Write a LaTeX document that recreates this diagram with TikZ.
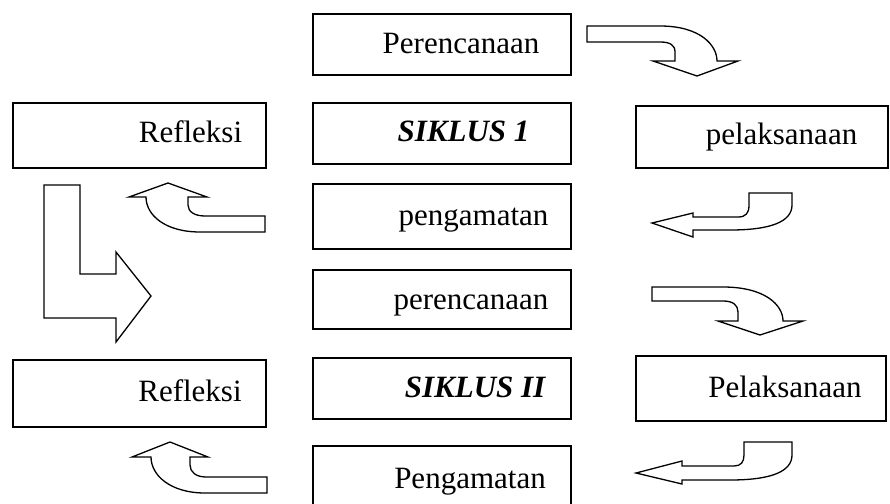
\documentclass[tikz,border=0pt]{standalone}
\usepackage{fontspec}
\setmainfont{Liberation Serif}
\begin{document}
\begin{tikzpicture}[x=1pt,y=-1pt,
  box/.style={draw, line width=1.8pt, rectangle, inner sep=0pt},
  lbl/.style={anchor=base, inner sep=0pt, font=\fontsize{31}{36}\selectfont},
  blk/.style={draw, line width=1.3pt, line join=miter, fill=white}]
\useasboundingbox (0,0) rectangle (890,503);
\clip (0,0) rectangle (890,503);
% boxes
\node[box, minimum width=258pt, minimum height=61pt] (b1) at (442,44.5) {};
\node[box, minimum width=253pt, minimum height=65pt] (r1) at (139.5,135.5) {};
\node[box, minimum width=258pt, minimum height=61pt] (s1) at (442,133.5) {};
\node[box, minimum width=252pt, minimum height=62pt] (l1) at (762,137) {};
\node[box, minimum width=258pt, minimum height=65pt] (g1) at (442,216.5) {};
\node[box, minimum width=258pt, minimum height=59pt] (p2) at (442,299.5) {};
\node[box, minimum width=253pt, minimum height=67pt] (r2) at (139.5,393.5) {};
\node[box, minimum width=258pt, minimum height=61pt] (s2) at (442,388.5) {};
\node[box, minimum width=250pt, minimum height=65pt] (l2) at (761,388.5) {};
\node[box, minimum width=258pt, minimum height=63pt] (g2) at (442,477.5) {};
% labels
\node[lbl] (tb1) at (461,53) {Perencanaan};
\node[lbl] (tr1) at (190.5,142.7) {Refleksi};
\node[lbl] (ts1) at (463.5,141.7) {\textbf{\textit{SIKLUS 1}}};
\node[lbl] (tl1) at (781.5,144) {pelaksanaan};
\node[lbl] (tg1) at (473.5,225) {pengamatan};
\node[lbl] (tp2) at (471,309.3) {perencanaan};
\node[lbl] (tr2) at (190,401) {Refleksi};
\node[lbl] (ts2) at (475.5,397) {\textbf{\textit{SIKLUS II}}};
\node[lbl] (tl2) at (785,397) {Pelaksanaan};
\node[lbl] (tg2) at (470,488) {Pengamatan};
% block arrows
% arrow 1
\draw[blk] (587,26) -- (660,26) .. controls (700,26) and (717,45) .. (717,61)
  -- (738,61) -- (697,76) -- (653,61) -- (675,61) -- (675,52)
  .. controls (675,45) and (670,42) .. (660,42) -- (587,42) -- cycle;
% arrow 2
\draw[blk] (168,183) -- (207,197) -- (188,197) -- (188,205)
  .. controls (188,212) and (195,216) .. (205,216) -- (265,216) -- (265,232)
  -- (200,232) .. controls (165,232) and (146,215) .. (146,197) -- (129,197) -- cycle;
% arrow 3
\draw[blk] (652,223) -- (693,213) -- (693,217) -- (738,217)
  .. controls (746,217) and (749,213) .. (749,205) -- (749,193) -- (792,193)
  -- (792,205) .. controls (792,222) and (770,230) .. (730,230) -- (693,230)
  -- (693,237) -- cycle;
% L arrow
\draw[blk] (44,185) -- (80,185) -- (80,274) -- (116,274) -- (116,252)
  -- (151,296) -- (116,342) -- (116,318) -- (44,318) -- cycle;
% arrow 5
\draw[blk] (652,287) -- (723,287) .. controls (765,287) and (783,305) .. (783,321)
  -- (803,321) -- (760,335) -- (718,321) -- (738,321) -- (738,312)
  .. controls (738,305) and (733,301) .. (723,301) -- (652,301) -- cycle;
% arrow 6
\draw[blk] (170,442) -- (208,457) -- (190,457) -- (190,465)
  .. controls (190,472) and (196,477) .. (206,477) -- (267,477) -- (267,493)
  -- (205,493) .. controls (170,493) and (151,475) .. (151,457) -- (132,457) -- cycle;
% arrow 7
\draw[blk] (636,473) -- (682,461) -- (682,466) -- (734,466)
  .. controls (741,466) and (744,462) .. (744,455) -- (744,442) -- (792,442)
  -- (792,455) .. controls (792,472) and (770,480) .. (730,480) -- (682,480)
  -- (682,484) -- cycle;
\end{tikzpicture}
\end{document}
